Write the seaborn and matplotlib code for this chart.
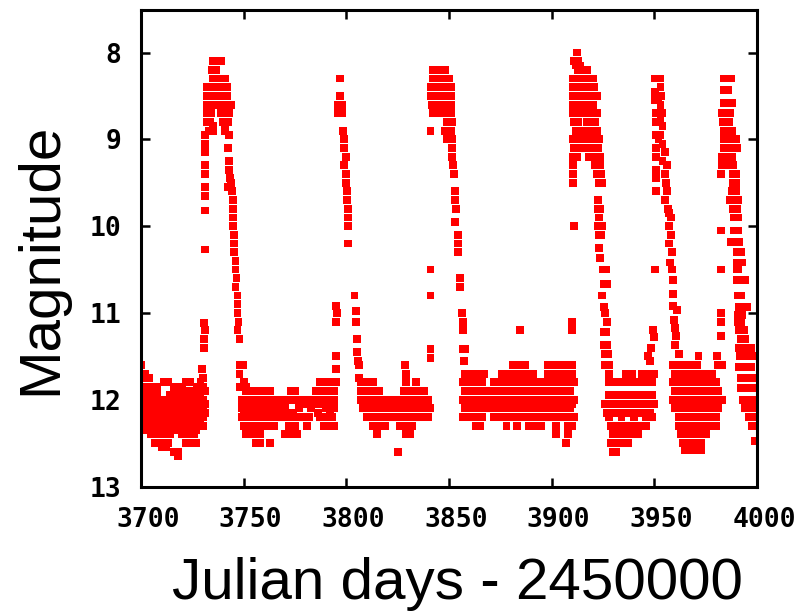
import matplotlib
matplotlib.use("Agg")
import matplotlib.pyplot as plt
import matplotlib.transforms as mtransforms
import seaborn as sns
import pandas as pd

# ---- data: (magnitude, [Julian days - 2450000]) ----
quiet1 = [
    (11.6, [3700]), (11.65, [3729.5]), (11.7, [3699, 3702]),
    (11.75, [3700, 3704, 3730]),
    (11.8, [3711, 3713, 3722, 3724, 3729]),
    (11.85, [3699, 3702, 3705, 3708, 3716, 3720, 3727, 3730]),
    (11.9, [3700, 3703, 3706, 3718, 3722, 3725, 3731]),
    (11.95, [3699, 3702, 3705, 3708, 3714, 3717, 3720, 3723, 3726, 3729]),
    (12.0, [3700, 3703, 3706, 3709, 3712, 3715, 3718, 3721, 3724, 3727, 3730]),
    (12.05, [3699, 3702, 3705, 3708, 3711, 3714, 3717, 3720, 3723, 3726, 3729, 3731]),
    (12.1, [3700, 3703, 3706, 3709, 3712, 3715, 3718, 3721, 3724, 3727, 3730]),
    (12.15, [3699, 3702, 3705, 3708, 3711, 3714, 3717, 3720, 3723, 3726, 3729, 3731]),
    (12.2, [3700, 3703, 3706, 3709, 3712, 3715, 3718, 3721, 3724, 3727, 3730]),
    (12.25, [3699, 3702, 3705, 3708, 3711, 3714, 3717, 3720, 3723, 3726, 3729]),
    (12.3, [3701, 3704, 3707, 3710, 3713, 3716, 3719, 3722, 3725, 3728, 3730]),
    (12.35, [3703, 3706, 3709, 3712, 3715, 3718, 3721, 3724, 3727]),
    (12.4, [3705, 3708, 3711, 3714, 3720, 3723, 3726]),
    (12.5, [3707, 3710, 3713, 3722, 3724, 3727]),
    (12.55, [3710, 3712]), (12.6, [3716, 3718]), (12.65, [3718]),
]
burst1 = [
    (11.4, [3730.5]), (11.3, [3730.5]), (11.2, [3731]), (11.12, [3730.5]),
    (10.27, [3731]), (9.82, [3731]), (9.65, [3731]), (9.55, [3731, 3742.5]),
    (9.4, [3731]), (9.3, [3731]), (9.15, [3731]), (9.05, [3731]),
    (8.95, [3731, 3743]),
    (8.1, [3735, 3737, 3739]), (8.2, [3734.5, 3736.5]),
    (8.3, [3735, 3737, 3739, 3741]),
    (8.4, [3732, 3734, 3736, 3738, 3740, 3742]),
    (8.5, [3732, 3734, 3736, 3738, 3740, 3742]),
    (8.6, [3732, 3734, 3736, 3738, 3740, 3742, 3744]),
    (8.7, [3732, 3734, 3739, 3741, 3743]),
    (8.8, [3732, 3733.5, 3740, 3742.5]), (8.85, [3735, 3741]),
    (8.9, [3733, 3735, 3741]),
    (9.1, [3742.5]), (9.25, [3743]), (9.35, [3743]), (9.45, [3743.5]),
    (9.5, [3744]), (9.6, [3744.5]), (9.7, [3745]), (9.8, [3745]), (9.9, [3745]),
    (10.0, [3745]), (10.1, [3745.5]), (10.2, [3745.5]), (10.3, [3745.5]),
    (10.4, [3746]), (10.5, [3746]), (10.6, [3746.5]), (10.7, [3746]),
    (10.8, [3747]), (10.9, [3747]), (11.0, [3747]), (11.1, [3747.5]),
    (11.2, [3747]), (11.3, [3748]), (11.6, [3748, 3749.5]), (11.7, [3748]),
]
quiet2 = [
    (11.8, [3750, 3787, 3790, 3793]), (11.85, [3748, 3751]),
    (11.9, [3751, 3754, 3757, 3760, 3763, 3773, 3775, 3785, 3788, 3791, 3794]),
    (12.0, [3749, 3752, 3755, 3758, 3761, 3764, 3767, 3770, 3773, 3776, 3779, 3782, 3785, 3788, 3791, 3794]),
    (12.05, [3750, 3753, 3756, 3759, 3762, 3765, 3768, 3780, 3783, 3786, 3789, 3792]),
    (12.1, [3749, 3752, 3755, 3758, 3761, 3764, 3767, 3770, 3777, 3783, 3790, 3794]),
    (12.15, [3750, 3753, 3756, 3759, 3762, 3765, 3768, 3771, 3774, 3786, 3792]),
    (12.2, [3749, 3752, 3755, 3758, 3761, 3764, 3767, 3770, 3773, 3776, 3779, 3782, 3787, 3790, 3793]),
    (12.3, [3750, 3753, 3756, 3759, 3762, 3765, 3772, 3775, 3781, 3789, 3791, 3794]),
    (12.4, [3751, 3755, 3758, 3770, 3773, 3776]),
    (12.5, [3756, 3758, 3763]),
]
burst2 = [
    (11.8, [3795]), (11.65, [3795]), (11.5, [3795]), (11.1, [3795]),
    (11.0, [3795.5]), (10.92, [3795]),
    (8.3, [3797]), (8.5, [3797]), (8.6, [3796, 3798]), (8.7, [3796, 3798]),
    (8.9, [3798.5]), (9.0, [3799]), (9.1, [3799]), (9.2, [3800]), (9.3, [3799]),
    (9.4, [3800]), (9.5, [3800]), (9.6, [3800.5]), (9.7, [3800.5]),
    (9.8, [3801]), (9.9, [3801]), (10.0, [3801]), (10.2, [3801]),
    (10.8, [3804]), (10.98, [3804.5]), (11.1, [3804.5]), (11.3, [3805]),
    (11.45, [3805]), (11.55, [3805.5]), (11.6, [3806]), (11.75, [3806]),
]
quiet3 = [
    (11.6, [3828.5]), (11.7, [3829]),
    (11.8, [3807, 3810, 3813, 3829, 3834]),
    (11.9, [3807, 3810, 3813, 3816, 3828, 3831, 3834, 3838]),
    (12.0, [3807, 3810, 3813, 3816, 3819, 3822, 3825, 3828, 3831, 3834, 3837, 3840]),
    (12.1, [3808, 3811, 3814, 3817, 3820, 3823, 3826, 3829, 3832, 3835, 3838, 3841]),
    (12.2, [3810, 3813, 3816, 3819, 3822, 3825, 3828, 3831, 3834, 3837, 3840]),
    (12.3, [3813, 3816, 3819, 3826, 3829, 3832]),
    (12.4, [3815, 3829, 3831]), (12.6, [3825]),
]
burst3 = [
    (10.5, [3841]), (10.8, [3841]), (11.42, [3841, 3857, 3858]), (11.52, [3841]),
    (8.2, [3842, 3844, 3846, 3848]),
    (8.3, [3842, 3844, 3846, 3848, 3850]),
    (8.4, [3841, 3843, 3845, 3847, 3849, 3851]),
    (8.5, [3841, 3843, 3845, 3847, 3849, 3851]),
    (8.6, [3841.5, 3843, 3846, 3849, 3851]),
    (8.7, [3842, 3844, 3848, 3850, 3851]),
    (8.8, [3849, 3851.5]), (8.9, [3841, 3848, 3850, 3851]),
    (9.0, [3849, 3850, 3851.5]), (9.1, [3851.5]), (9.2, [3851.5]),
    (9.3, [3852]), (9.4, [3852.5]), (9.6, [3853]), (9.7, [3853]),
    (9.8, [3853.5]), (9.95, [3853]), (10.1, [3854.5]), (10.2, [3854.5]),
    (10.3, [3854.5]), (10.6, [3855.5]), (10.7, [3855.5]), (11.0, [3856.5]),
    (11.1, [3857]), (11.2, [3857]), (11.55, [3857.5]),
]
quiet4 = [
    (11.6, [3881, 3884, 3887, 3898, 3901, 3904, 3907, 3910]),
    (11.7, [3858, 3861, 3864, 3867, 3876, 3879, 3882, 3885, 3888, 3891, 3898, 3901, 3904, 3907, 3910]),
    (11.8, [3857, 3860, 3863, 3866, 3872, 3875, 3878, 3881, 3884, 3887, 3890, 3893, 3896, 3899, 3902, 3905, 3908, 3911]),
    (11.9, [3858, 3861, 3864, 3867, 3870, 3873, 3876, 3879, 3882, 3885, 3888, 3891, 3894, 3897, 3900, 3903, 3906, 3909]),
    (12.0, [3857, 3860, 3863, 3866, 3869, 3872, 3875, 3878, 3881, 3884, 3887, 3890, 3893, 3896, 3899, 3902, 3905, 3908, 3911]),
    (12.05, [3862, 3868, 3874, 3880, 3886, 3892, 3898, 3904, 3910]),
    (12.1, [3858, 3861, 3864, 3867, 3870, 3873, 3876, 3879, 3882, 3885, 3888, 3891, 3894, 3897, 3900, 3903, 3906, 3909]),
    (12.2, [3857, 3860, 3863, 3866, 3872, 3875, 3878, 3881, 3884, 3887, 3890, 3893, 3896, 3899, 3902, 3905, 3908, 3911]),
    (12.3, [3863, 3865, 3878, 3883, 3889, 3892, 3895, 3902, 3908, 3910]),
    (12.4, [3902, 3908]), (12.5, [3907]),
    (11.2, [3884.5, 3910]), (11.1, [3910]),
]
burst4 = [
    (10.0, [3911, 3922.5, 3924.5]), (9.5, [3910.5, 3923, 3924.5]),
    (9.4, [3910.5, 3922, 3924]), (9.3, [3910.5, 3921, 3923.5]),
    (9.2, [3910.5, 3912.5, 3918, 3920, 3922, 3923.5]),
    (8.0, [3912.5]), (8.1, [3911, 3913]), (8.15, [3912, 3914]),
    (8.2, [3913, 3915, 3917]),
    (8.3, [3910.5, 3912.5, 3914.5, 3916.5, 3918.5, 3920]),
    (8.4, [3910.5, 3912.5, 3914.5, 3916.5, 3918.5, 3920.5]),
    (8.5, [3910.5, 3912.5, 3914.5, 3916.5, 3918.5, 3920.5, 3922]),
    (8.6, [3910.5, 3912.5, 3914.5, 3916.5, 3918.5, 3920]),
    (8.7, [3910.5, 3912.5, 3914.5, 3916.5, 3918.5, 3920, 3922]),
    (8.8, [3911, 3913, 3917, 3919, 3921]),
    (8.9, [3912, 3914, 3916, 3918, 3920, 3922]),
    (9.0, [3910.5, 3913, 3915, 3917, 3919, 3921, 3923]),
    (9.1, [3911, 3913, 3916, 3918, 3920.5, 3922.5]),
    (9.7, [3922.5]), (9.8, [3922.5, 3923.5]), (9.9, [3923]),
    (10.1, [3923, 3924]), (10.25, [3923]), (10.37, [3923.5]),
    (10.5, [3925, 3926.5]), (10.67, [3925.5, 3927]), (10.8, [3924.5]),
    (10.93, [3925.5]), (11.0, [3926]), (11.1, [3927]),
    (11.22, [3925.5, 3926.5]), (11.37, [3925.5, 3927]), (11.47, [3926, 3927.5]),
]
quiet5 = [
    (11.6, [3926, 3928]),
    (11.7, [3928, 3936, 3939, 3944, 3947, 3950]),
    (11.8, [3928, 3931, 3934, 3937, 3940, 3943, 3946, 3949]),
    (11.95, [3928, 3931, 3934, 3937, 3940, 3943, 3946, 3949]),
    (12.05, [3926, 3929, 3932, 3935, 3938, 3941, 3944, 3947, 3950]),
    (12.15, [3927, 3930, 3933, 3936, 3939, 3942, 3945, 3948]),
    (12.2, [3928, 3934, 3940, 3946, 3949]),
    (12.3, [3929, 3932, 3935, 3938, 3941, 3944, 3946]),
    (12.4, [3930, 3933, 3936, 3939, 3942]),
    (12.5, [3929, 3931, 3934, 3937]),
    (12.6, [3930, 3931.5]),
    (11.2, [3949.5]), (11.28, [3950]), (11.4, [3948.5]), (11.5, [3947]),
    (11.55, [3948]), (10.5, [3950.5]),
]
burst5 = [
    (8.3, [3950.5, 3953]), (8.45, [3950.5]), (8.55, [3950.5, 3952]),
    (8.7, [3951, 3954]), (8.8, [3951]), (8.95, [3951, 3953]),
    (9.1, [3951]), (9.2, [3951]), (9.35, [3951]), (9.45, [3951]), (9.6, [3951, 3956]),
    (8.4, [3953]), (8.5, [3953.5]), (8.6, [3953]), (8.75, [3953]),
    (8.85, [3954]), (9.0, [3952]), (9.05, [3954]), (9.15, [3955]),
    (9.25, [3954]), (9.3, [3956]), (9.4, [3955]), (9.5, [3955.5]),
    (9.7, [3955]), (9.8, [3956.5]), (9.85, [3957]), (9.9, [3958]),
    (10.0, [3957]), (10.1, [3958]), (10.2, [3957]), (10.3, [3958.5]),
    (10.42, [3957.5]), (10.5, [3958.5]), (10.62, [3959]), (10.78, [3959]),
    (10.92, [3959]), (10.97, [3961]), (11.08, [3959.5]), (11.17, [3960]),
    (11.27, [3960.5]), (11.37, [3960]), (11.47, [3962]),
]
quiet6 = [
    (11.5, [3971.5, 3980.5]),
    (11.6, [3959, 3962, 3965, 3968, 3971, 3981, 3983]),
    (11.7, [3960, 3963, 3966, 3969, 3972, 3975, 3978]),
    (11.8, [3959, 3962, 3965, 3968, 3971, 3974, 3977, 3980]),
    (11.9, [3960, 3963, 3966, 3969, 3972, 3975, 3978, 3981]),
    (12.0, [3959, 3962, 3965, 3968, 3971, 3974, 3977, 3980, 3983]),
    (12.1, [3960, 3963, 3966, 3969, 3972, 3975, 3978, 3981]),
    (12.2, [3962, 3965, 3968, 3971, 3974, 3977, 3980]),
    (12.3, [3962, 3965, 3968, 3971, 3974, 3977, 3980]),
    (12.4, [3963, 3966, 3969, 3972, 3975]),
    (12.5, [3964, 3967, 3970, 3973]),
    (12.58, [3965, 3969, 3971, 3973]),
    (10.05, [3982.5]), (10.5, [3982.5]), (11.0, [3982.5]), (11.1, [3982.5]), (11.27, [3982.5]),
]
burst6 = [
    (8.3, [3984, 3986, 3987.5]), (8.43, [3984, 3986]), (8.58, [3984, 3986, 3988]),
    (8.7, [3983, 3985, 3987]), (8.8, [3983.5, 3986.5]), (8.9, [3984, 3986, 3988]),
    (9.0, [3984, 3986, 3988, 3990]), (9.1, [3984, 3987, 3990.5]),
    (9.2, [3983, 3985, 3988]), (9.3, [3983, 3986.5, 3988.5]),
    (9.4, [3982.5, 3988.5, 3990]), (9.5, [3988.5, 3990]), (9.6, [3988, 3990]),
    (9.7, [3987, 3989, 3991]), (9.8, [3988.5, 3990.5]), (9.9, [3989, 3991]),
    (10.05, [3989, 3991]), (10.18, [3987.5, 3989.5, 3991.5]), (10.3, [3990, 3992]),
    (10.42, [3990, 3992.5]), (10.5, [3990, 3991]), (10.62, [3990, 3992, 3994]),
    (10.8, [3990.5, 3992]), (10.93, [3991, 3993, 3995]), (11.02, [3990.5, 3992.5]),
    (11.1, [3990.5, 3992]), (11.2, [3991, 3993.5]), (11.3, [3992, 3994]),
    (11.4, [3991, 3993, 3995, 3997]), (11.5, [3991.5, 3994, 3996.5, 3998]),
    (11.62, [3991, 3993, 3995, 3997]), (11.75, [3992, 3994, 3996, 3998]),
    (11.87, [3992, 3994, 3996.5, 3998.5]), (12.0, [3993, 3995, 3997, 3999]),
    (12.1, [3994, 3996, 3998]), (12.2, [3996, 3998, 3999.5]),
    (12.3, [3997.5, 3999.5]), (12.48, [3999]),
]

x_ticks = [3700, 3750, 3800, 3850, 3900, 3950, 4000]
y_ticks = [8, 9, 10, 11, 12, 13]
x_label = "Julian days - 2450000"
y_label = "Magnitude"

segments = [quiet1, burst1, quiet2, burst2, quiet3, burst3,
            quiet4, burst4, quiet5, burst5, quiet6, burst6]
records = [(d, m) for seg in segments for m, days in seg for d in days]
df = pd.DataFrame(records, columns=["jd", "mag"])

sns.set_theme(style="ticks")
plt.rcParams["font.family"] = ["Liberation Sans", "DejaVu Sans"]
plt.rcParams["text.color"] = "black"
plt.rcParams["axes.labelcolor"] = "black"
plt.rcParams["xtick.color"] = "black"
plt.rcParams["ytick.color"] = "black"

fig = plt.figure(figsize=(8.07, 6.14), dpi=100)
W, H = 807, 614
left, right, top, bottom = 141, 757, 10, 486.5
ax = fig.add_axes([left / W, 1 - bottom / H, (right - left) / W, (bottom - top) / H])

sns.scatterplot(data=df, x="jd", y="mag", marker="s", s=32, color="#ff0000",
                edgecolor="none", linewidth=0, legend=False, ax=ax)

ax.set_xlim(3700, 4000)
ax.set_ylim(13, 7.51)
ax.set_xticks(x_ticks)
ax.set_yticks(y_ticks)
ax.tick_params(direction="in", length=6.5, width=1.8, top=True, right=True,
               color="black", labelcolor="black")
ax.tick_params(axis="x", pad=15, labelsize=19)
ax.tick_params(axis="y", pad=14, labelsize=19)
shift = mtransforms.ScaledTranslation(7 / 100, 0, fig.dpi_scale_trans)
for lab in ax.get_xticklabels():
    lab.set_transform(lab.get_transform() + shift)
for lab in ax.get_xticklabels() + ax.get_yticklabels():
    lab.set_fontfamily("DejaVu Sans Mono")
    lab.set_fontweight("bold")
    lab.set_color("black")
for sp in ax.spines.values():
    sp.set_linewidth(2.2)
    sp.set_color("black")

ax.set_xlabel(x_label, fontsize=42, color="black")
ax.set_ylabel(y_label, fontsize=42, color="black")
ax.xaxis.set_label_coords(0.513, -0.148)
ax.yaxis.set_label_coords(-0.118, 0.477)

fig.savefig("out.png", dpi=100)
